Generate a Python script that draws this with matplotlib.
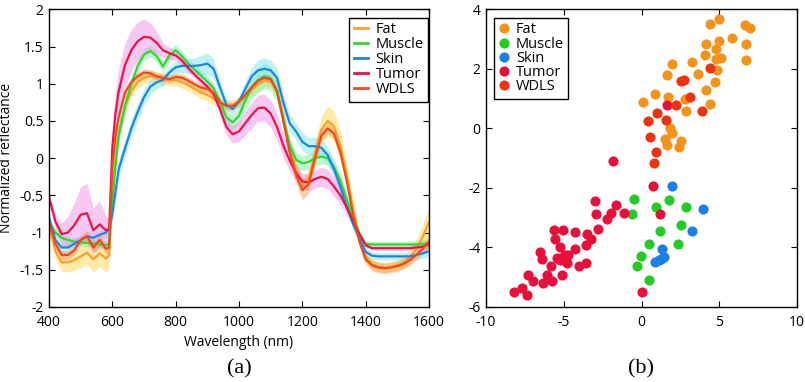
import numpy as np
import matplotlib
matplotlib.use("Agg")
import matplotlib.pyplot as plt

plt.rcParams['font.family'] = ['Open Sans', 'DejaVu Sans']
plt.rcParams['axes.unicode_minus'] = False

# ---------------- data: panel (a) ----------------
wavelength = [400, 420, 440, 460, 480, 500, 520, 540, 560, 580, 590, 600, 610, 620,
              640, 660, 680, 700, 720, 740, 760, 780, 800, 820, 840, 860, 880, 900,
              920, 940, 960, 980, 1000, 1020, 1040, 1060, 1080, 1100, 1120, 1140,
              1160, 1180, 1200, 1220, 1240, 1260, 1280, 1300, 1320, 1340, 1360, 1380,
              1400, 1420, 1440, 1460, 1480, 1500, 1520, 1540, 1560, 1580, 1600]

fat_mean = [-0.90, -1.25, -1.40, -1.40, -1.37, -1.32, -1.27, -1.36, -1.28, -1.35, -1.30, -0.50, 0.05, 0.35,
            0.70, 0.90, 1.02, 1.08, 1.10, 1.08, 1.06, 1.05, 1.05, 1.02, 0.98, 0.93, 0.88, 0.85,
            0.80, 0.74, 0.71, 0.71, 0.76, 0.83, 0.92, 0.99, 1.04, 1.03, 0.90, 0.55,
            0.15, -0.15, -0.36, -0.28, 0.08, 0.38, 0.50, 0.43, 0.17, -0.22, -0.68, -1.08,
            -1.32, -1.42, -1.46, -1.47, -1.46, -1.44, -1.40, -1.33, -1.22, -1.06, -0.86]
fat_std = [0.08, 0.10, 0.12, 0.13, 0.14, 0.15, 0.15, 0.17, 0.18, 0.18, 0.17, 0.15, 0.13, 0.12,
           0.10, 0.08, 0.08, 0.08, 0.08, 0.08, 0.08, 0.08, 0.08, 0.08, 0.08, 0.08, 0.08, 0.08,
           0.08, 0.08, 0.07, 0.07, 0.07, 0.08, 0.08, 0.08, 0.08, 0.08, 0.09, 0.10,
           0.10, 0.10, 0.10, 0.12, 0.15, 0.18, 0.20, 0.20, 0.20, 0.18, 0.15, 0.10,
           0.08, 0.07, 0.07, 0.07, 0.07, 0.07, 0.08, 0.10, 0.13, 0.17, 0.20]

muscle_mean = [-0.85, -1.00, -1.07, -1.10, -1.12, -1.13, -1.14, -1.15, -1.16, -1.17, -1.15, -0.60, -0.10, 0.30,
               0.70, 1.00, 1.24, 1.39, 1.44, 1.37, 1.23, 1.38, 1.45, 1.37, 1.27, 1.19, 1.11, 1.03,
               0.94, 0.76, 0.55, 0.48, 0.57, 0.78, 0.95, 1.05, 1.10, 1.07, 0.90, 0.52,
               0.18, -0.02, -0.07, -0.05, 0.00, 0.02, 0.00, -0.12, -0.30, -0.55, -0.80, -1.02,
               -1.15, -1.16, -1.16, -1.16, -1.16, -1.16, -1.16, -1.16, -1.16, -1.15, -1.15]
muscle_std = [0.04, 0.05, 0.05, 0.05, 0.05, 0.05, 0.05, 0.05, 0.05, 0.05, 0.06, 0.10, 0.12, 0.12,
              0.10, 0.09, 0.08, 0.08, 0.08, 0.08, 0.08, 0.08, 0.08, 0.07, 0.07, 0.07, 0.07, 0.07,
              0.07, 0.08, 0.09, 0.10, 0.12, 0.14, 0.16, 0.17, 0.17, 0.16, 0.14, 0.12,
              0.10, 0.10, 0.10, 0.10, 0.10, 0.10, 0.10, 0.10, 0.10, 0.09, 0.08, 0.06,
              0.04, 0.04, 0.04, 0.04, 0.04, 0.04, 0.04, 0.05, 0.05, 0.06, 0.07]

skin_mean = [-0.80, -1.10, -1.20, -1.20, -1.15, -1.10, -1.05, -1.07, -1.03, -1.00, -0.95, -0.75, -0.45, -0.15,
             0.13, 0.40, 0.62, 0.82, 0.96, 1.02, 1.05, 1.15, 1.22, 1.24, 1.24, 1.24, 1.25, 1.27,
             1.20, 0.95, 0.72, 0.66, 0.76, 0.93, 1.10, 1.18, 1.20, 1.18, 1.08, 0.75,
             0.47, 0.36, 0.22, 0.16, 0.16, 0.14, 0.04, -0.15, -0.38, -0.65, -0.88, -1.08,
             -1.26, -1.31, -1.32, -1.32, -1.32, -1.32, -1.32, -1.32, -1.30, -1.28, -1.25]
skin_std = [0.06, 0.07, 0.07, 0.07, 0.07, 0.07, 0.07, 0.07, 0.07, 0.07, 0.08, 0.10, 0.12, 0.12,
            0.12, 0.12, 0.12, 0.11, 0.10, 0.09, 0.08, 0.08, 0.08, 0.09, 0.10, 0.11, 0.13, 0.15,
            0.13, 0.10, 0.08, 0.07, 0.08, 0.10, 0.12, 0.14, 0.15, 0.14, 0.13, 0.12,
            0.12, 0.12, 0.12, 0.12, 0.12, 0.12, 0.12, 0.11, 0.10, 0.09, 0.08, 0.06,
            0.05, 0.05, 0.05, 0.05, 0.05, 0.05, 0.05, 0.06, 0.06, 0.07, 0.08]

tumor_mean = [-0.52, -0.85, -1.02, -1.00, -0.90, -0.76, -0.74, -0.97, -0.89, -0.97, -0.95, 0.15, 0.60, 0.90,
              1.25, 1.45, 1.57, 1.63, 1.62, 1.55, 1.45, 1.41, 1.38, 1.31, 1.21, 1.12, 1.04, 0.96,
              0.86, 0.66, 0.42, 0.32, 0.36, 0.47, 0.58, 0.67, 0.68, 0.60, 0.42, 0.17,
              -0.03, -0.20, -0.31, -0.33, -0.28, -0.25, -0.28, -0.38, -0.50, -0.66, -0.84, -1.02,
              -1.17, -1.21, -1.21, -1.21, -1.21, -1.21, -1.21, -1.21, -1.20, -1.19, -1.16]
tumor_std = [0.05, 0.10, 0.15, 0.22, 0.30, 0.38, 0.40, 0.30, 0.32, 0.18, 0.15, 0.25, 0.30, 0.30,
             0.30, 0.28, 0.26, 0.24, 0.20, 0.15, 0.10, 0.08, 0.07, 0.06, 0.06, 0.06, 0.06, 0.06,
             0.07, 0.09, 0.11, 0.12, 0.14, 0.16, 0.17, 0.18, 0.18, 0.18, 0.18, 0.16,
             0.14, 0.12, 0.11, 0.11, 0.12, 0.13, 0.13, 0.13, 0.12, 0.10, 0.08, 0.05,
             0.03, 0.03, 0.03, 0.03, 0.03, 0.03, 0.03, 0.03, 0.04, 0.05, 0.06]

wdls_mean = [-0.85, -1.15, -1.30, -1.30, -1.24, -1.10, -1.05, -1.20, -1.10, -1.22, -1.20, -0.10, 0.30, 0.55,
             0.88, 1.02, 1.10, 1.15, 1.14, 1.10, 1.08, 1.06, 1.09, 1.08, 1.04, 0.99, 0.95, 0.93,
             0.88, 0.75, 0.70, 0.70, 0.76, 0.85, 0.95, 1.04, 1.08, 1.06, 0.90, 0.50,
             0.08, -0.22, -0.43, -0.35, 0.00, 0.30, 0.40, 0.33, 0.08, -0.30, -0.75, -1.12,
             -1.36, -1.44, -1.47, -1.48, -1.47, -1.45, -1.42, -1.37, -1.30, -1.22, -1.12]
wdls_std = [0.05, 0.06, 0.06, 0.06, 0.06, 0.06, 0.07, 0.07, 0.07, 0.07, 0.07, 0.08, 0.08, 0.08,
            0.07, 0.06, 0.06, 0.05, 0.05, 0.05, 0.05, 0.05, 0.05, 0.05, 0.05, 0.05, 0.05, 0.05,
            0.05, 0.05, 0.05, 0.05, 0.05, 0.05, 0.05, 0.05, 0.05, 0.05, 0.06, 0.08,
            0.10, 0.12, 0.13, 0.12, 0.10, 0.08, 0.07, 0.07, 0.07, 0.07, 0.07, 0.07,
            0.07, 0.07, 0.07, 0.07, 0.07, 0.07, 0.07, 0.07, 0.07, 0.07, 0.07]

# ---------------- data: panel (b) ----------------
fat_x = [4.39, 4.99, 6.65, 6.95, 4.13, 4.77, 5.01, 5.81, 6.73, 6.70, 4.06, 4.76, 5.13, 4.87, 3.26, 1.97,
         1.65, 3.64, 4.71, 4.17, 4.38, 0.87, 0.12, 1.69, 2.79, 2.83, 1.86, 1.97, 1.54, 1.61, 2.57, 2.40]
fat_y = [3.51, 3.67, 3.47, 3.36, 2.83, 2.66, 2.95, 3.05, 2.85, 2.31, 2.48, 2.32, 2.38, 1.97, 2.24, 2.15,
         1.80, 1.83, 1.57, 1.29, 0.82, 1.17, 0.88, 1.04, 1.00, 0.57, 0.01, -0.16, -0.36, -0.55, -0.41, -0.63]

muscle_x = [-0.49, -0.64, 0.94, 1.78, 2.88, 1.18, 2.54, 2.37, 0.48, -0.06, -0.28, 0.46]
muscle_y = [-2.36, -2.87, -2.65, -2.41, -2.65, -3.45, -3.24, -3.89, -3.89, -4.29, -4.63, -5.08]

skin_x = [1.95, 3.95, 3.22, 1.35, 0.84, 1.11, 1.43, 1.25]
skin_y = [-1.92, -2.70, -3.44, -4.04, -4.48, -4.41, -4.31, -4.38]

tumor_x = [1.61, -1.86, 0.76, -3.00, -1.61, -2.95, -1.93, -1.12, -2.25, 1.18, -2.81, -5.64, -5.04, -4.29,
           -3.52, -3.24, -3.56, -5.59, -5.21, -4.29, -6.54, -6.41, -5.42, -4.92, -5.25, -4.82, -5.81,
           -4.01, -3.60, -5.10, -7.31, -7.00, -6.06, -6.34, -5.74, -8.21, -7.67, -7.35, 0.00, -5.00, -4.70]
tumor_y = [0.79, -1.11, -1.92, -2.44, -2.58, -2.87, -2.85, -2.85, -3.04, -2.88, -3.38, -3.42, -3.41, -3.48,
           -3.56, -3.72, -3.91, -3.73, -3.97, -4.06, -4.15, -4.38, -4.37, -4.25, -4.41, -4.52, -4.61,
           -4.62, -4.53, -4.94, -4.92, -5.13, -4.92, -5.18, -5.14, -5.49, -5.37, -5.60, -5.49, -4.30, -4.25]

wdls_x = [4.39, 2.57, 2.75, 3.15, 3.88, 2.21, 1.01, 0.43, 1.59, 0.53, 0.92, 0.79]
wdls_y = [2.04, 1.60, 1.63, 1.04, 0.57, 0.77, 0.51, 0.26, 0.27, -0.30, -0.80, -1.17]

labels = ["Fat", "Muscle", "Skin", "Tumor", "WDLS"]
line_colors = ["#F7A12A", "#33D633", "#1F84E0", "#E6154A", "#EE4A1E"]
band_colors = ["#FFD23C", "#6FF09A", "#6FE4F2", "#F286E4", "#F7954F"]
dot_colors = ["#F39419", "#22CC22", "#1A80E8", "#E8103A", "#EE3311"]

W, H = 805, 382
fig = plt.figure(figsize=(W / 100, H / 100), dpi=100)

def fx(px):
    return px / W

def fy(py):
    return 1 - py / H

ax1 = fig.add_axes([fx(49), fy(307), fx(429) - fx(49), fy(9.3) - fy(307)])
ax2 = fig.add_axes([fx(486), fy(307), fx(797) - fx(486), fy(9.3) - fy(307)])

wl = np.array(wavelength)
means = [fat_mean, muscle_mean, skin_mean, tumor_mean, wdls_mean]
stds = [fat_std, muscle_std, skin_std, tumor_std, wdls_std]

for m, s, bc in zip(means, stds, band_colors):
    m = np.array(m); s = np.array(s)
    ax1.fill_between(wl, m - s, m + s, color=bc, alpha=0.45, linewidth=0)
for m, lc, lab in zip(means, line_colors, labels):
    ax1.plot(wl, m, color=lc, lw=1.6, label=lab)

ax1.set_xlim(400, 1600)
ax1.set_ylim(-2, 2)
ax1.set_xticks([400, 600, 800, 1000, 1200, 1400, 1600])
ax1.set_yticks([-2, -1.5, -1, -0.5, 0, 0.5, 1, 1.5, 2])
ax1.set_yticklabels(["-2", "-1.5", "-1", "-0.5", "0", "0.5", "1", "1.5", "2"])
ax1.set_xlabel("Wavelength (nm)", fontsize=10, labelpad=3)
ax1.set_ylabel("Normalized reflectance", fontsize=10, labelpad=4)

leg1 = ax1.legend(loc="upper right", bbox_to_anchor=(fx(428), fy(18)), bbox_transform=fig.transFigure,
                  borderaxespad=0, fontsize=10.5, handlelength=1.0, handletextpad=0.5,
                  labelspacing=0.0, borderpad=0.3, fancybox=False, framealpha=1, edgecolor="black")
leg1.get_frame().set_linewidth(1.0)
for ln in leg1.get_lines():
    ln.set_linewidth(2.0)

pts_x = [fat_x, muscle_x, skin_x, tumor_x, wdls_x]
pts_y = [fat_y, muscle_y, skin_y, tumor_y, wdls_y]
for x, y, c, lab in zip(pts_x, pts_y, dot_colors, labels):
    ax2.plot(x, y, "o", color=c, markersize=7.3, markeredgewidth=0, label=lab)

ax2.set_xlim(-10, 10)
ax2.set_ylim(-6, 4)
ax2.set_xticks([-10, -5, 0, 5, 10])
ax2.set_yticks([-6, -4, -2, 0, 2, 4])
leg2 = ax2.legend(loc="upper left", bbox_to_anchor=(fx(494), fy(18)), bbox_transform=fig.transFigure,
                  borderaxespad=0, fontsize=10.5, handlelength=0.8, handletextpad=0.4,
                  labelspacing=-0.05, borderpad=0.3, fancybox=False, framealpha=1, edgecolor="black")
leg2.get_frame().set_linewidth(1.0)

for ax in (ax1, ax2):
    ax.tick_params(direction="in", top=True, right=True, length=4, width=0.8, labelsize=10)
    ax.tick_params(axis="x", pad=6)
    ax.tick_params(axis="y", pad=4)
    for sp in ax.spines.values():
        sp.set_linewidth(1.0)

fig.text(fx(239), fy(369), "(a)", family="Liberation Serif", fontsize=16, ha="center", va="center")
fig.text(fx(641), fy(369), "(b)", family="Liberation Serif", fontsize=16, ha="center", va="center")

fig.savefig("out.png", dpi=100)
